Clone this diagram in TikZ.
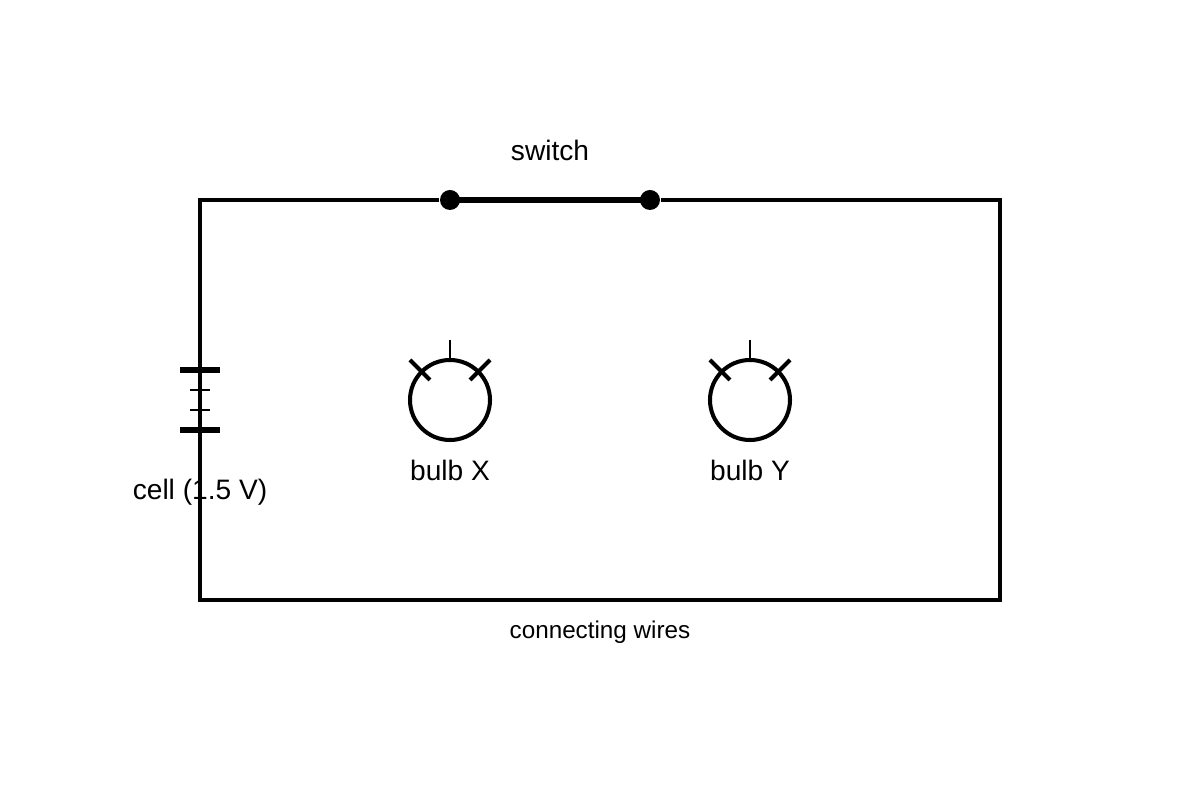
\documentclass[tikz,border=0pt]{standalone}
\usepackage{fontspec}
\setmainfont{Liberation Sans}
\tikzset{
	wire/.style    = {line width=1.15pt},
	plate/.style   = {line width=1.6pt},
	tick/.style    = {line width=0.45pt},
	bulb/.style    = {draw, circle, line width=1.15pt, minimum size=0.8cm, inner sep=0pt},
	contact/.style = {fill, circle, minimum size=0.2cm, inner sep=0pt},
	lbl/.style     = {font=\fontsize{8pt}{10pt}\selectfont}
}
\begin{document}
\begin{tikzpicture}[x=1cm, y=-1cm]
	\useasboundingbox (0,0) rectangle (12,8);
	% wire corners
	\coordinate (tl) at (2,2);
	\coordinate (tr) at (10,2);
	\coordinate (br) at (10,6);
	\coordinate (bl) at (2,6);
	\node at (4.5,2)[contact] (s1) {};
	\node at (6.5,2)[contact] (s2) {};
	\node at (5.5,1.5)[lbl] (sw) {switch};
	\draw[wire] (s1) -- (tl) -- (bl) -- (br) -- (tr) -- (s2);
	\draw[line width=1.6pt] (s1.center) -- (s2.center);
	\node at (6,6.32)[lbl, font=\fontsize{6.9pt}{9pt}\selectfont] (cw) {connecting wires};
	% cell
	\draw[plate] (1.8,3.7) -- (2.2,3.7);
	\draw[plate] (1.8,4.3) -- (2.2,4.3);
	\draw[tick] (1.9,3.9) -- (2.1,3.9);
	\draw[tick] (1.9,4.1) -- (2.1,4.1);
	\node at (2,4.92)[lbl] (cell) {cell (1.5 V)};
	% bulbs
	\foreach \x/\n in {4.5/X, 7.5/Y} {
		\node at (\x,4)[bulb] (b\n) {};
		\draw[wire] (\x-0.4,3.6) -- ++(0.2,0.2);
		\draw[wire] (\x+0.4,3.6) -- ++(-0.2,0.2);
		\draw[line width=0.8pt] (\x,3.4) -- (b\n.north);
		\node at (\x,4.7)[lbl] {bulb \n};
	}
\end{tikzpicture}
\end{document}
